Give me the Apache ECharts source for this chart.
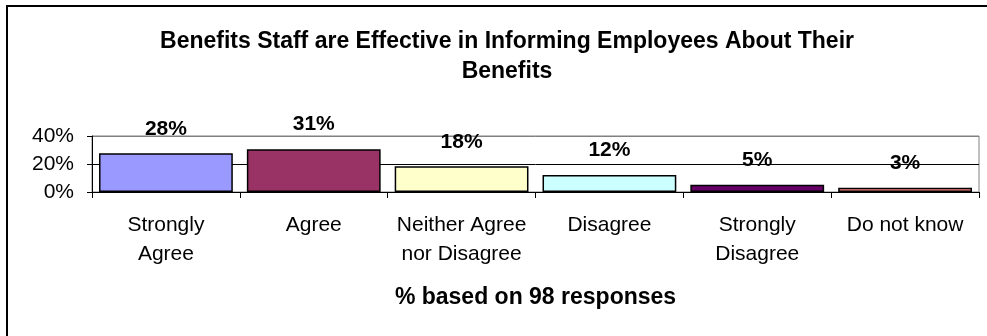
<!DOCTYPE html>
<html>
<head>
<meta charset="utf-8">
<script src="https://cdn.jsdelivr.net/npm/echarts@6/dist/echarts.min.js"></script>
<style>
html,body{margin:0;padding:0;background:#fff;}
#c{width:987px;height:336px;}
</style>
</head>
<body>
<div id="c"></div>
<script>
const titleText = 'Benefits Staff are Effective in Informing Employees About Their\nBenefits';
const xAxisTitle = '% based on 98 responses';
const categories = ['Strongly\nAgree', 'Agree', 'Neither Agree\nnor Disagree', 'Disagree', 'Strongly\nDisagree', 'Do not know'];
const values = [27.6, 30.6, 18.4, 12.2, 5.1, 3.1];
const barColors = ['#9999FF', '#993366', '#FFFFCC', '#CCFFFF', '#660066', '#FF8080'];
const yTicks = [0, 20, 40];

const FONT = 'Arial, "Liberation Sans", sans-serif';
const chart = echarts.init(document.getElementById('c'), null, {renderer: 'canvas'});
chart.setOption({
  backgroundColor: '#fff',
  animation: false,
  title: {
    text: titleText,
    left: 502,
    top: 22,
    textAlign: 'center',
    textStyle: {fontFamily: FONT, fontSize: 23, fontWeight: 'bold', color: '#000', lineHeight: 30, align: 'center'}
  },
  graphic: [{
    type: 'rect',
    shape: {x: 7, y: 6, width: 1100, height: 400},
    style: {fill: 'none', stroke: '#000', lineWidth: 2},
    silent: true,
    z: 100
  }],
  grid: {
    left: 92, right: 8, top: 136, bottom: 144,
    show: true, borderColor: '#808080', borderWidth: 1, backgroundColor: 'transparent',
    outerBoundsMode: 'none', containLabel: false
  },
  xAxis: {
    type: 'category',
    data: categories,
    name: xAxisTitle,
    nameLocation: 'middle',
    nameGap: 94,
    nameTextStyle: {fontFamily: FONT, fontSize: 23, fontWeight: 'bold', color: '#000'},
    axisLine: {show: true, lineStyle: {color: '#000', width: 1}},
    axisTick: {show: true, alignWithLabel: false, length: 6, lineStyle: {color: '#000'}},
    axisLabel: {fontFamily: FONT, fontSize: 21, color: '#000', margin: 19, lineHeight: 29, interval: 0}
  },
  yAxis: {
    type: 'value',
    min: 0, max: 40, interval: 20,
    axisLine: {show: true, lineStyle: {color: '#000', width: 1}},
    axisTick: {show: true, length: 5, lineStyle: {color: '#000'}},
    axisLabel: {fontFamily: FONT, fontSize: 21, color: '#000', margin: 18,
      formatter: function (v) { return yTicks.indexOf(v) >= 0 ? v + '%' : ''; }},
    splitLine: {show: true, lineStyle: {color: ['#000', '#000', '#808080'], width: 1}}
  },
  series: [{
    type: 'bar',
    data: values.map((v, i) => ({value: v, itemStyle: {color: barColors[i]}})),
    barCategoryGap: '9.5%',
    itemStyle: {borderColor: '#000', borderWidth: 1.5},
    label: {
      show: true, position: 'top', distance: 14,
      fontFamily: FONT, fontSize: 21, fontWeight: 'bold', color: '#000',
      formatter: p => Math.round(p.value) + '%'
    }
  }]
});
</script>
</body>
</html>
